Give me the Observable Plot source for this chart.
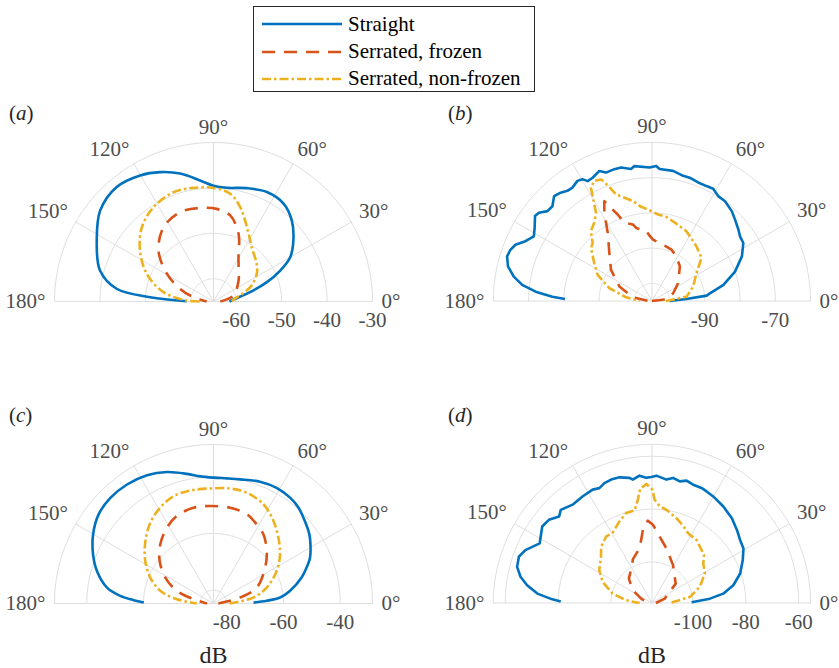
<!DOCTYPE html>
<html>
<head>
<meta charset="utf-8">
<script src="https://cdn.jsdelivr.net/npm/d3@7"></script>
<script src="https://cdn.jsdelivr.net/npm/@observablehq/plot@0.6"></script>
<style>
  html, body { margin: 0; padding: 0; background: #fff; }
  #figure { position: relative; width: 839px; height: 668px; overflow: hidden;
    font-family: "Liberation Serif", "Times New Roman", serif; }
  .panel { position: absolute; }
  .tag { position: absolute; font-size: 21px; line-height: 21px; color: #262626; white-space: nowrap; }
  .legend { position: absolute; left: 253px; top: 6px; width: 282px; height: 86px;
    box-sizing: border-box; border: 1px solid #262626; background: #fff; }
  .legend-row { position: absolute; left: 8px; height: 24px; display: flex; align-items: center; }
  .legend-row span { font-size: 21px; color: #000; margin-left: 6px; white-space: nowrap; }
</style>
</head>
<body>
<div id="figure"></div>
<script>
// Directivity in dB against emission angle (degrees): [angle, level] pairs.
const seriesNames = ["Straight", "Serrated, frozen", "Serrated, non-frozen"];

// (a)
const straightA = [[0,-61.5],[5.7,-60.6],[14.3,-56.7],[19.9,-52.5],[24.9,-48.8],[30,-45.5],[37.3,-42.9],[46,-40.2],[54.4,-38.5],[64,-38.2],[73.7,-39.0],[83.3,-39.8],[90,-39.5],[96.3,-38.2],[104.6,-35.9],[112.4,-34.2],[120.2,-32.9],[130.2,-32.0],[141.2,-33.0],[152.4,-36.0],[164.7,-39.1],[172.5,-43.5],[176.1,-51.0],[179.3,-59.1]];
const frozenA = [[0,-63.5],[16.7,-60.4],[40,-57.8],[52.6,-55.9],[60.6,-53.8],[69.7,-49.1],[79,-45.7],[88,-44.6],[98.1,-44.2],[110.5,-44.0],[123.9,-45.3],[137.2,-48.5],[149.3,-53.1],[159.2,-57.1],[167.8,-60.5],[180,-63.5]];
const nonFrozenA = [[0,-61],[5,-60.6],[21.3,-56.3],[32.6,-53.7],[41,-52.4],[54.8,-50.4],[62.6,-48.2],[74.2,-43.4],[81.2,-41.0],[90,-40.0],[100,-39.6],[110.1,-39.4],[122.5,-40.4],[134,-42.3],[145.2,-45.3],[157.5,-49.1],[169.4,-53.8],[177.9,-59.1],[180,-62]];

// (b)
const straightB = [[0,-100],[3.3,-95.2],[5.6,-89.4],[7.6,-88.4],[12.7,-84.2],[19.5,-80.0],[26.4,-76.5],[32.4,-74.3],[36.3,-74.0],[39.5,-73.2],[44.4,-72.0],[48.4,-70.9],[53.8,-69.9],[57.7,-69.8],[61.4,-68.7],[64.6,-68.9],[68.7,-68.9],[73,-68.4],[76,-68.4],[80.8,-67.6],[86.7,-67.5],[88.2,-66.7],[91,-67.1],[97.4,-66.4],[99,-67.1],[103,-66.1],[105.9,-66.1],[109.7,-66.3],[112,-65.2],[115.7,-66.2],[118.2,-66.4],[119.7,-65.2],[121.8,-64.9],[125,-65.7],[127.5,-65.6],[130.1,-64.8],[133,-64.3],[136.4,-66.0],[139.3,-65.9],[142,-64.3],[144,-64.0],[148.1,-65.8],[151.3,-66.8],[154.7,-65.3],[157.6,-63.1],[160.1,-62.3],[162.9,-62.0],[166.5,-63.0],[170,-65.2],[172.9,-67.9],[175.4,-71.9],[177.5,-76.7],[178.7,-80.3]];
const frozenB = [[0,-105],[6.6,-100.9],[20,-98.6],[34,-96.1],[51,-92.4],[61.2,-90.6],[69.2,-89.4],[77,-88.9],[89,-87.6],[92.6,-86.2],[94.7,-85.1],[102.2,-83.8],[104,-82.6],[109.4,-81.5],[111.6,-78.6],[114.2,-75.5],[115.5,-73.6],[118.4,-76.6],[123,-82.0],[131.6,-86.8],[142.7,-90.4],[156,-94.9],[169,-99.5],[180,-104]];
const nonFrozenB = [[0,-101],[7.2,-95.1],[19.3,-92.6],[32,-90.1],[40.9,-86.4],[50.8,-85.0],[59.7,-83.7],[63.7,-82.9],[72.5,-82.0],[80.3,-80.8],[86,-80.4],[90.4,-79.5],[93.5,-78.8],[97.4,-77.8],[100.8,-76.1],[104.9,-74.7],[108.6,-73.1],[110.9,-69.9],[112.7,-67.6],[115.7,-67.2],[118.3,-68.5],[120,-71.7],[122.4,-75.4],[126.4,-77.4],[131.2,-78.7],[135.7,-81.5],[139,-82.1],[146.7,-85.4],[154.3,-87.9],[163.3,-92.4],[171.9,-97.6],[180,-101.5]];

// (c)
const straightC = [[1.4,-70.6],[2.9,-65.9],[5.1,-61.1],[9.4,-57.3],[16.4,-52.3],[21.1,-49.5],[25.4,-47.0],[29.9,-45.2],[35.8,-43.0],[42,-41.3],[48.5,-39.5],[54.1,-38.6],[61.4,-38.2],[69.1,-38.7],[77.9,-39.9],[83.9,-40.3],[90,-40.3],[96,-39.6],[101.6,-38.0],[109.5,-35.5],[117.4,-33.7],[126,-32.8],[134.3,-32.6],[142.2,-33.4],[150.1,-35.7],[157.8,-38.8],[164.4,-42.0],[171.5,-46.7],[175.3,-51.7],[177.6,-56.5],[179.2,-60.1]];
const frozenC = [[0,-83],[12.7,-75.1],[20.3,-68.4],[34.9,-62.5],[44.6,-58.3],[54.2,-54.6],[61.4,-52.9],[69.5,-51.1],[80.2,-50.4],[92,-50.3],[101.8,-50.2],[112.7,-51.2],[121.5,-53.3],[131.9,-56.6],[141.7,-60.5],[151.7,-65.4],[160.9,-71.0],[167.8,-77.5],[180,-82.4]];
const nonFrozenC = [[0,-79],[8.5,-70.5],[16.7,-65.1],[27.3,-59.6],[36.5,-55.5],[45.4,-52.1],[54,-48.7],[63.3,-45.5],[73.3,-43.9],[81.8,-43.7],[91.7,-44.1],[101.6,-44.0],[110.4,-44.3],[119.1,-46.0],[128,-48.5],[137.5,-52.1],[148,-56.3],[157.7,-60.6],[166.6,-65.4],[173.3,-71.7],[180,-78.8]];

// (d)
const straightD = [[1,-100.5],[4.3,-93.5],[7.5,-88.3],[12.3,-84.0],[18.5,-80.3],[25.3,-77.5],[30.8,-75.2],[35.6,-74.5],[40.7,-73.1],[46.7,-71.4],[53.5,-70.1],[60.1,-69.0],[63.9,-68.5],[66.7,-68.1],[70.8,-68.1],[74.2,-67.4],[77.1,-68.3],[80.4,-67.5],[83.3,-68.5],[88,-67.3],[90.3,-67.8],[92.6,-68.1],[95.6,-67.1],[98.8,-68.3],[100.2,-67.4],[104.5,-66.4],[108.3,-66.3],[111.6,-66.7],[114.6,-67.7],[117.6,-67.1],[123.1,-67.4],[128.9,-67.7],[134.4,-66.2],[137,-67.5],[141.1,-65.4],[145.1,-64.9],[152,-67.4],[157.3,-63.6],[160.8,-62.2],[165,-62.7],[168.7,-64.8],[171.9,-67.8],[175.3,-72.0],[177.9,-77.8],[179,-81.0]];
const frozenD = [[0,-114],[18.9,-110.4],[39.2,-103.9],[60.9,-99.1],[75.2,-94.1],[83.4,-90.2],[89.3,-85.9],[92.8,-84.3],[96.3,-86.4],[99.7,-91.3],[102.8,-94.3],[113.7,-97.5],[117.6,-99.3],[133.4,-102.8],[146.3,-106.8],[157.9,-111.1],[180,-114]];
const nonFrozenD = [[0,-108],[2.7,-107.5],[9,-101.0],[18.6,-96.4],[29.1,-92.6],[37.6,-91.0],[42.7,-88.7],[54.7,-86.3],[62.6,-85.8],[68,-84.0],[73.9,-82.1],[81.2,-79.8],[85.4,-78.8],[88.5,-76.4],[89.8,-72.6],[92.7,-70.4],[95.9,-72.1],[97.8,-76.1],[100.7,-79.9],[106,-80.1],[111.8,-82.3],[119.1,-85.0],[124.7,-85.0],[132.1,-86.8],[137.8,-89.5],[148,-92.0],[156.8,-95.2],[166.5,-100.2],[174,-105.7],[180,-110.8]];

// Angular ticks and radial (dB) ticks of each panel
const angleTicks = [0, 30, 60, 90, 120, 150, 180];
const limitsA = [-65, -30],     ringsA = [-60, -50, -40, -30], ringLabelsA = [-60, -50, -40, -30];
const limitsB = [-105, -60],    ringsB = [-100, -90, -80, -70, -60], ringLabelsB = [-90, -70];
const limitsC = [-84.7, -28.6], ringsC = [-80, -60, -40], ringLabelsC = [-80, -60, -40];
const limitsD = [-115.5, -55.5], ringsD = [-100, -80, -60], ringLabelsD = [-100, -80, -60];

// ---- drawing ----
const R = 159;                 // outer radius in px
const DEG = Math.PI / 180;
const gridColor = "#dedede";
const labelColor = "#4d4d4d";
const tickFont = 21;
const seriesStyles = [
  {color: "#0072BD", dash: null},
  {color: "#D95319", dash: "13,9"},
  {color: "#EDB120", dash: "9,3,2.5,3"}
];

const panels = [
  {tag: "a", left: 0,   top: 100, height: 300, cx: 213, cy: 201, limits: limitsA, rings: ringsA, ringLabels: ringLabelsA, series: [straightA, frozenA, nonFrozenA], curve: "catmull-rom", xlabel: null},
  {tag: "b", left: 420, top: 100, height: 300, cx: 232, cy: 201, limits: limitsB, rings: ringsB, ringLabels: ringLabelsB, series: [straightB, frozenB, nonFrozenB], curve: "linear", xlabel: null},
  {tag: "c", left: 0,   top: 400, height: 268, cx: 213, cy: 203, limits: limitsC, rings: ringsC, ringLabels: ringLabelsC, series: [straightC, frozenC, nonFrozenC], curve: "catmull-rom", xlabel: "dB"},
  {tag: "d", left: 420, top: 400, height: 268, cx: 232, cy: 203, limits: limitsD, rings: ringsD, ringLabels: ringLabelsD, series: [straightD, frozenD, nonFrozenD], curve: "linear", xlabel: "dB"}
];

const polar = (deg, r) => ({x: r * Math.cos(deg * DEG), y: r * Math.sin(deg * DEG)});

function panelPlot(p) {
  const [rMin, rMax] = p.limits;
  const norm = v => Math.max(0, (v - rMin) / (rMax - rMin));
  const arc = r => d3.range(0, 180.5, 1).map(a => polar(a, r));
  const ringValues = p.rings.includes(rMax) ? p.rings : [...p.rings, rMax];
  const marks = [];

  // grid: rings and spokes
  for (const v of ringValues) {
    marks.push(Plot.line(arc(norm(v)), {x: "x", y: "y", stroke: gridColor, strokeWidth: 1}));
  }
  marks.push(Plot.link(angleTicks, {
    x1: () => 0, y1: () => 0,
    x2: a => Math.cos(a * DEG), y2: a => Math.sin(a * DEG),
    stroke: gridColor, strokeWidth: 1
  }));

  // directivity curves
  p.series.forEach((pts, i) => {
    const st = seriesStyles[i];
    marks.push(Plot.line(pts.map(([a, v]) => polar(a, norm(v))), {
      x: "x", y: "y", stroke: st.color, strokeWidth: 2.6,
      strokeDasharray: st.dash, strokeLinecap: "butt", strokeLinejoin: "round",
      curve: p.curve
    }));
  });

  // angle labels outside the outer ring
  const labelR = 1 + 9 / R;
  const groups = [
    {keep: a => a === 0, textAnchor: "start", lineAnchor: "middle"},
    {keep: a => a > 0 && a < 90, textAnchor: "start", lineAnchor: "bottom"},
    {keep: a => a === 90, textAnchor: "middle", lineAnchor: "bottom"},
    {keep: a => a > 90 && a < 180, textAnchor: "end", lineAnchor: "bottom"},
    {keep: a => a === 180, textAnchor: "end", lineAnchor: "middle"}
  ];
  for (const g of groups) {
    marks.push(Plot.text(angleTicks.filter(g.keep), {
      x: a => labelR * Math.cos(a * DEG), y: a => labelR * Math.sin(a * DEG),
      text: a => `${a}°`, textAnchor: g.textAnchor, lineAnchor: g.lineAnchor,
      fill: labelColor, fontSize: tickFont
    }));
  }

  // dB labels under the right half of the baseline
  marks.push(Plot.text(p.ringLabels, {
    x: v => norm(v), y: () => 0, dy: 11, lineAnchor: "top",
    text: v => String(v), fill: labelColor, fontSize: tickFont
  }));

  if (p.xlabel) {
    marks.push(Plot.text([p.xlabel], {
      x: () => 0, y: () => 0, dy: 52, lineAnchor: "middle",
      text: d => d, fill: "#262626", fontSize: 24
    }));
  }

  return Plot.plot({
    width: 420, height: p.height, margin: 0,
    x: {domain: [-1, 1], range: [p.cx - R, p.cx + R], axis: null},
    y: {domain: [0, 1], range: [p.cy, p.cy - R], axis: null},
    style: {fontFamily: "'Liberation Serif', 'Times New Roman', serif", fontSize: "21px", background: "transparent", overflow: "visible"},
    marks
  });
}

const fig = document.getElementById("figure");

for (const p of panels) {
  const holder = document.createElement("div");
  holder.className = "panel";
  holder.style.left = p.left + "px";
  holder.style.top = p.top + "px";
  holder.appendChild(panelPlot(p));
  fig.appendChild(holder);

  const tag = document.createElement("div");
  tag.className = "tag";
  tag.style.left = (p.left + p.cx - 204) + "px";
  tag.style.top = (p.top + p.cy - 198) + "px";
  tag.innerHTML = `(<i>${p.tag}</i>)`;
  fig.appendChild(tag);
}

// legend
const legend = document.createElement("div");
legend.className = "legend";
seriesNames.forEach((name, i) => {
  const st = seriesStyles[i];
  const row = document.createElement("div");
  row.className = "legend-row";
  row.style.top = (5.3 + 27.3 * i) + "px";
  row.innerHTML = `<svg width="80" height="10"><line x1="0" y1="5" x2="80" y2="5" stroke="${st.color}" stroke-width="2.6"${st.dash ? ` stroke-dasharray="${st.dash}"` : ""}/></svg><span>${name}</span>`;
  legend.appendChild(row);
});
fig.appendChild(legend);
</script>
</body>
</html>
